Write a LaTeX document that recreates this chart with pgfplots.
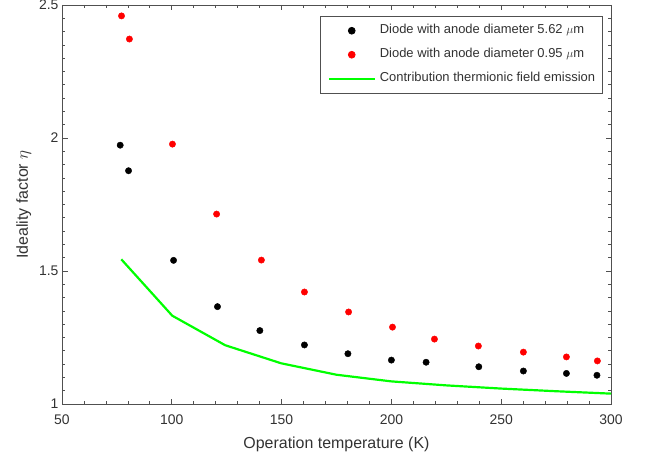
\documentclass[border=0pt]{standalone}
\usepackage{pgfplots}
\pgfplotsset{compat=1.18}
\usepackage{fontspec}
\setmainfont{Liberation Sans}
\usetikzlibrary{calc}
\definecolor{axgray}{RGB}{80,80,80}
\definecolor{txtgray}{RGB}{50,50,50}
\begin{document}
\begin{tikzpicture}
\begin{axis}[
  scale only axis, width=549bp, height=399bp,
  xmin=50, xmax=300, ymin=1, ymax=2.5,
  xtick={50,100,...,300}, ytick={1,1.5,2,2.5},
  minor x tick num=4, minor y tick num=9,
  tick align=inside,
  major tick length=5.5bp, minor tick length=3bp,
  axis line style={axgray, line width=0.8pt},
  every tick/.style={axgray, line width=0.7pt},
  tick label style={font=\fontsize{14}{16}\selectfont, text=txtgray},
  xticklabel style={anchor=base, yshift=-20bp},
  /pgf/number format/assume math mode=true,
  yticklabel style={/pgf/number format/fixed},
  xlabel={Operation temperature (K)},
  ylabel={Ideality factor $\eta$},
  label style={font=\fontsize{16}{18}\selectfont, text=txtgray},
  xlabel style={at={(axis description cs:0.5,-0.1115)}, anchor=base},
  ylabel style={at={(axis description cs:-0.0620,0.5)}, anchor=base},
  legend style={at={(0.9854,0.9732)}, anchor=north east, draw=axgray, line width=0.8pt,
    font=\fontsize{13}{15}\selectfont, text=txtgray,
    nodes={inner sep=0pt, text height=9.5bp, text depth=3bp},
    row sep=11.5bp, column sep=4bp, inner xsep=7.5bp, inner ysep=8.4bp},
  legend cell align=left,
]
\addplot[only marks, mark=*, mark size=3.2pt, color=black,
  legend image code/.code={\path[draw=none,fill=none] (0bp,0bp) rectangle (46bp,0.1bp); \fill[black] (23bp,0bp) circle[radius=3.4bp];}]
  coordinates {
  (76.5,1.973) (80.3,1.877) (100.8,1.540) (120.8,1.366) (140.1,1.276)
  (160.4,1.222) (180.2,1.189) (200.0,1.165) (215.8,1.157) (239.8,1.140)
  (260.1,1.124) (279.7,1.115) (293.6,1.108)};
\addlegendentry{Diode with anode diameter 5.62 $\mu$m}
\addplot[only marks, mark=*, mark size=3.2pt, color=red,
  legend image code/.code={\path[draw=none,fill=none] (0bp,0bp) rectangle (46bp,0.1bp); \fill[red] (23bp,0bp) circle[radius=3.4bp];}]
  coordinates {
  (77.1,2.459) (80.7,2.372) (100.3,1.977) (120.4,1.714) (140.8,1.541)
  (160.4,1.421) (180.5,1.346) (200.5,1.289) (219.6,1.244) (239.6,1.218)
  (260.1,1.195) (279.7,1.177) (293.8,1.162)};
\addlegendentry{Diode with anode diameter 0.95 $\mu$m}
\addplot[color=green, line width=2.2pt, mark=none,
  legend image code/.code={\draw[green, line width=2.2pt] (0bp,0bp) -- (46bp,0bp);}]
  coordinates {
  (77,1.544) (100.2,1.332) (124.3,1.221) (149.8,1.153) (175,1.110)
  (200,1.085) (225,1.070) (250,1.058) (275,1.048) (300,1.039)};
\addlegendentry{Contribution thermionic field emission}
\end{axis}
\pgfresetboundingbox
\useasboundingbox ($(current axis.south west)+(-62bp,-54bp)$) rectangle ($(current axis.north east)+(38bp,5bp)$);
\end{tikzpicture}
\end{document}
